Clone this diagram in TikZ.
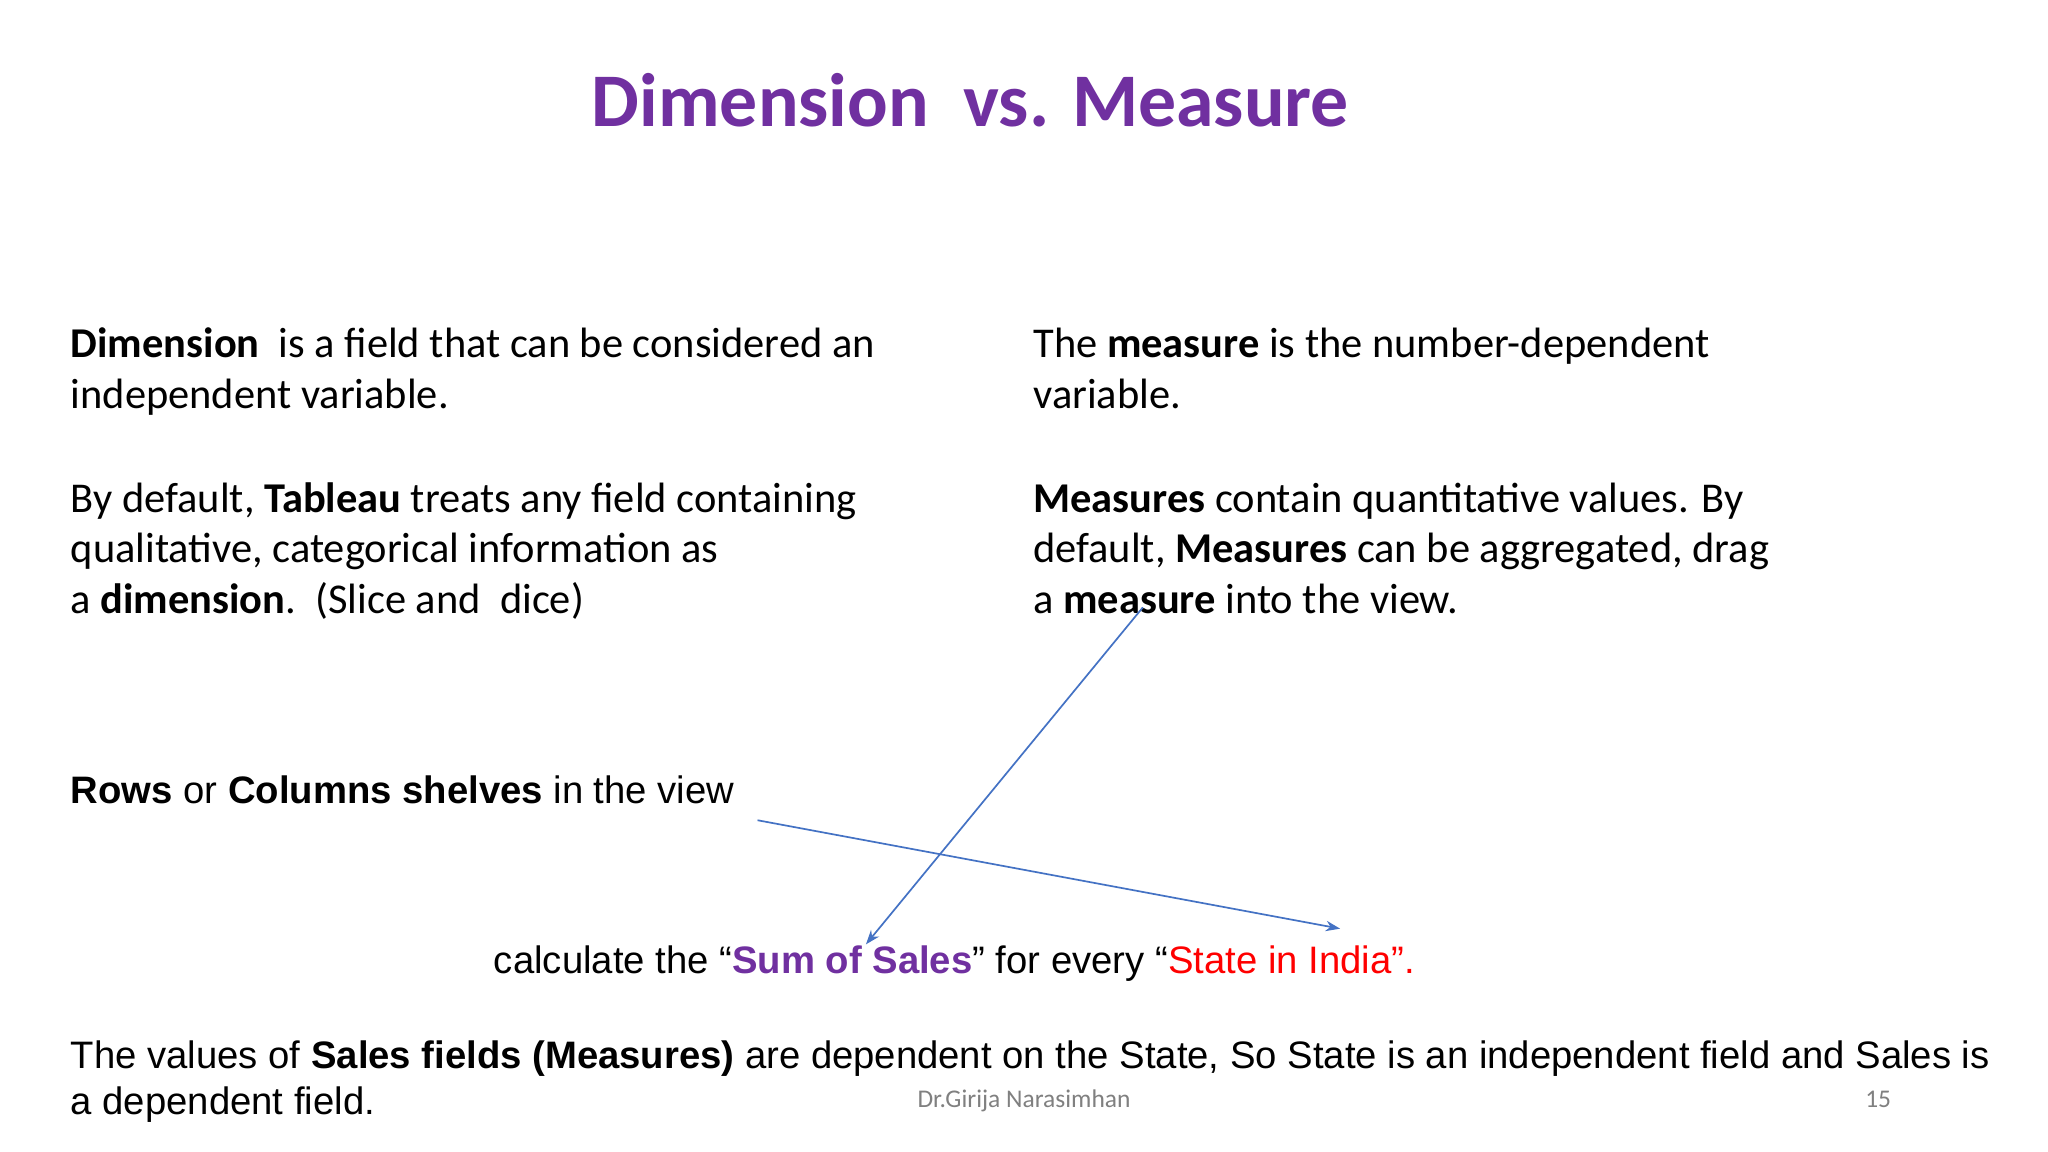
\documentclass[tikz,border=0pt]{standalone}
\usepackage{fontspec}
\setmainfont{Carlito}
\newfontfamily\arialf{Liberation Sans}
\usetikzlibrary{arrows.meta}
\definecolor{ttl}{RGB}{112,48,160}
\definecolor{arr}{RGB}{68,114,196}
\definecolor{redt}{RGB}{255,0,0}
\begin{document}
\begin{tikzpicture}[x=1pt,y=-1pt,
  body/.style={anchor=base west,inner sep=0pt,font=\fontsize{32.5}{39}\selectfont},
  ar/.style={anchor=base west,inner sep=0pt,font=\arialf\fontsize{29.3}{35}\selectfont},
  conn/.style={draw=arr,line width=1.3pt,-{Stealth[length=11pt,width=8pt]}}]
\useasboundingbox (0,0) rectangle (1568,882);
\fill[white] (0,0) rectangle (1568,882);
\node[anchor=base,inner sep=0pt,font=\fontsize{58}{60}\selectfont\bfseries,text=ttl] (title) at (743,97) {Dimension\ \ vs. Measure};
\node[body] (l1) at (54,274) {\textbf{Dimension}\ \ is a field that can be considered an};
\node[body] (l1b) at (54,313) {independent variable.};
\node[body] (l2) at (54,392) {By default, \textbf{Tableau} treats any field containing};
\node[body] (l2b) at (54,431) {qualitative, categorical information as};
\node[body] (l2c) at (54,470) {a \textbf{dimension}.\ \ (Slice and\ \ dice)};
\node[body] (r1) at (791,274) {The \textbf{measure} is the number-dependent};
\node[body] (r1b) at (791,313) {variable.};
\node[body] (r2) at (791,392) {\textbf{Measures} contain quantitative values. By};
\node[body] (r2b) at (791,431) {default, \textbf{Measures} can be aggregated, drag};
\node[body] (r2c) at (791,470) {a \textbf{measure} into the view.};
\node[ar] (rows) at (54,615) {\textbf{Rows} or \textbf{Columns shelves} in the view};
\node[ar] (calc) at (378,745) {calculate the “\textcolor{ttl}{\textbf{Sum of Sales}}” for every “\textcolor{redt}{State in India”.}};
\node[ar] (bot) at (54,818) {The values of \textbf{Sales fields (Measures)} are dependent on the State, So State is an independent field and Sales is};
\node[ar] (botb) at (54,853) {a dependent field.};
\node[anchor=base,inner sep=0pt,font=\fontsize{19.5}{22}\selectfont,text=gray] (foot) at (784,848) {Dr.Girija Narasimhan};
\node[anchor=base,inner sep=0pt,font=\fontsize{19.5}{22}\selectfont,text=gray] (pg) at (1438,848) {15};
\coordinate (a1s) at (580,628);
\coordinate (a1e) at (1026,711);
\coordinate (a2s) at (875,465);
\coordinate (a2e) at (663,723);
\draw[conn] (a1s) -- (a1e);
\draw[conn] (a2s) -- (a2e);
\end{tikzpicture}
\end{document}
